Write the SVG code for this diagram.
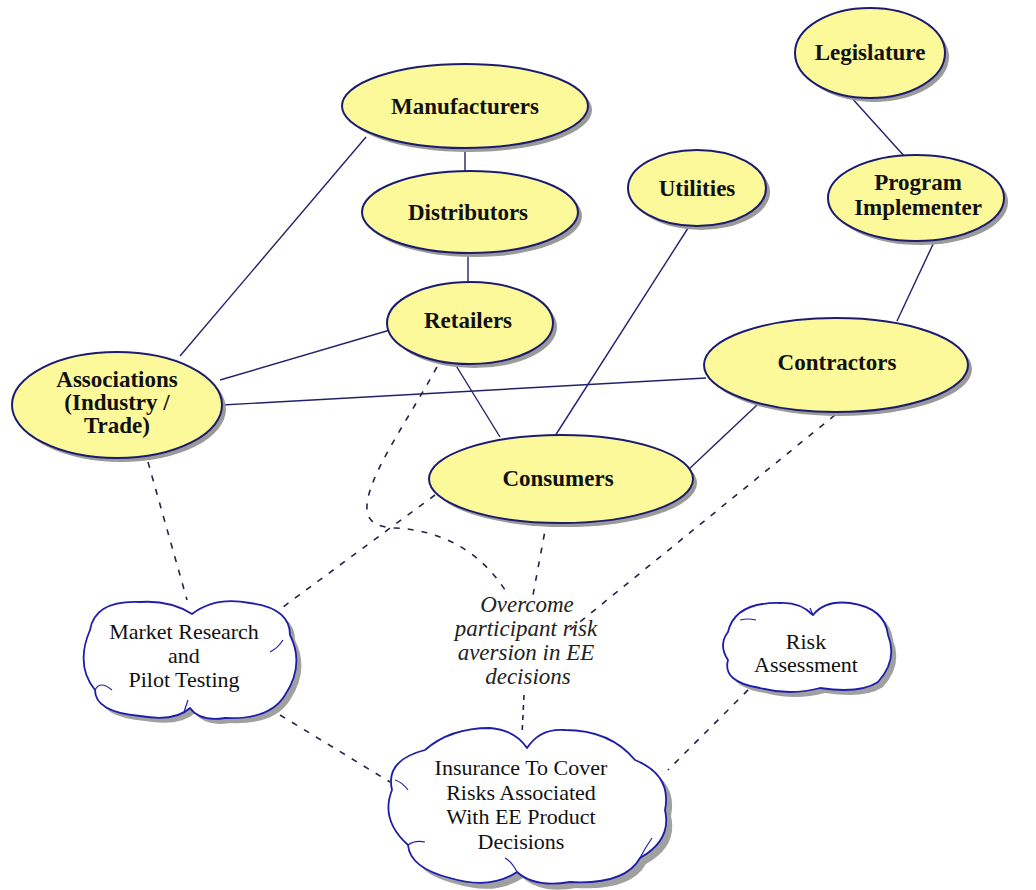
<svg xmlns="http://www.w3.org/2000/svg" width="1036" height="890" viewBox="0 0 1036 890">
  <style>
    .node ellipse.body { fill: #fbf99a; stroke: #1c1c6e; stroke-width: 2; }
    .node ellipse.shade { fill: #9a9a9a; }
    .node text { font-family: "Liberation Serif", "Times New Roman", serif; font-weight: bold; font-size: 23px; fill: #111; text-anchor: middle; }
    .cloud path.body { fill: #ffffff; stroke: #1e1ea8; stroke-width: 1.8; stroke-linejoin: round; }
    .cloud path.shade { fill: #a0a0a0; }
    .cloud path.crease { fill: none; stroke: #1e1ea8; stroke-width: 1.2; }
    .cloud text { font-family: "Liberation Serif", "Times New Roman", serif; font-size: 22px; fill: #111; text-anchor: middle; }
    .label text { font-family: "Liberation Serif", "Times New Roman", serif; font-style: italic; font-size: 23px; fill: #222; text-anchor: middle; }
    .solid { fill: none; stroke: #22226a; stroke-width: 1.4; }
    .dashed { fill: none; stroke: #22224a; stroke-width: 1.6; stroke-dasharray: 6 8; }
  </style>

  <rect width="1036" height="890" fill="#ffffff"/>

  <!-- connectors -->
  <g id="connectors">
    <path class="solid" d="M465 147 L465 172"/>
    <path class="solid" d="M468 252 L468 282"/>
    <path class="solid" d="M366 137 L180 356"/>
    <path class="solid" d="M390 330 L220 380"/>
    <path class="solid" d="M222 405 L706 378"/>
    <path class="solid" d="M455 364 L500 437"/>
    <path class="solid" d="M690 225 L555 436"/>
    <path class="solid" d="M757 405 L688 470"/>
    <path class="solid" d="M850 96 L905 157"/>
    <path class="solid" d="M935 240 L897 321"/>

    <path class="dashed" d="M148 462 L187 600"/>
    <path class="dashed" d="M437 367 C405 425 365 480 367 510 Q368 527 395 528 C440 530 480 550 507 593"/>
    <path class="dashed" d="M435 495 L283 607"/>
    <path class="dashed" d="M547 520 L533 595"/>
    <path class="dashed" d="M835 415 L570 630"/>
    <path class="dashed" d="M524 695 L522 735" style="stroke-dasharray:5 5"/>
    <path class="dashed" d="M280 715 L390 782"/>
    <path class="dashed" d="M758 680 L668 770"/>
  </g>

  <!-- ellipse nodes -->
  <g id="manufacturers" class="node">
    <ellipse class="shade" cx="469" cy="110" rx="123" ry="42"/>
    <ellipse class="body" cx="465" cy="106" rx="123" ry="42"/>
    <text x="465" y="114">Manufacturers</text>
  </g>
  <g id="distributors" class="node">
    <ellipse class="shade" cx="474" cy="216" rx="108" ry="41"/>
    <ellipse class="body" cx="470" cy="212" rx="108" ry="41"/>
    <text x="468" y="220">Distributors</text>
  </g>
  <g id="retailers" class="node">
    <ellipse class="shade" cx="474" cy="327" rx="83" ry="41"/>
    <ellipse class="body" cx="470" cy="323" rx="83" ry="41"/>
    <text x="468" y="328">Retailers</text>
  </g>
  <g id="utilities" class="node">
    <ellipse class="shade" cx="701" cy="192" rx="69" ry="38"/>
    <ellipse class="body" cx="697" cy="188" rx="69" ry="38"/>
    <text x="697" y="196">Utilities</text>
  </g>
  <g id="legislature" class="node">
    <ellipse class="shade" cx="874" cy="57" rx="75" ry="45"/>
    <ellipse class="body" cx="870" cy="53" rx="75" ry="45"/>
    <text x="870" y="60">Legislature</text>
  </g>
  <g id="program-implementer" class="node">
    <ellipse class="shade" cx="920" cy="202" rx="88" ry="43"/>
    <ellipse class="body" cx="916" cy="198" rx="88" ry="43"/>
    <text x="918" y="190">Program</text>
    <text x="918" y="215">Implementer</text>
  </g>
  <g id="contractors" class="node">
    <ellipse class="shade" cx="840" cy="369" rx="132" ry="47"/>
    <ellipse class="body" cx="836" cy="365" rx="132" ry="47"/>
    <text x="837" y="370">Contractors</text>
  </g>
  <g id="associations" class="node">
    <ellipse class="shade" cx="121" cy="409" rx="105" ry="53"/>
    <ellipse class="body" cx="117" cy="405" rx="105" ry="53"/>
    <text x="117" y="387">Associations</text>
    <text x="117" y="410">(Industry /</text>
    <text x="117" y="433">Trade)</text>
  </g>
  <g id="consumers" class="node">
    <ellipse class="shade" cx="565" cy="483" rx="132" ry="44"/>
    <ellipse class="body" cx="561" cy="479" rx="132" ry="44"/>
    <text x="558" y="486">Consumers</text>
  </g>

  <!-- cloud nodes -->
  <g id="market-research" class="cloud">
    <path class="shade" transform="translate(5 5)" d="M90 630 Q95 600 140 602 Q170 600 192 614 Q215 596 250 603 Q290 608 290 635 Q305 665 285 695 Q270 720 225 718 Q200 722 190 708 Q175 722 140 716 Q95 712 95 690 Q75 665 90 630 Z"/>
    <path class="body" d="M90 630 Q95 600 140 602 Q170 600 192 614 Q215 596 250 603 Q290 608 290 635 Q305 665 285 695 Q270 720 225 718 Q200 722 190 708 Q175 722 140 716 Q95 712 95 690 Q75 665 90 630 Z"/>
    <path class="crease" d="M188 700 Q186 706 184 712 M95 690 Q100 680 112 690 M283 640 Q278 648 270 652"/>
    <text x="184" y="639">Market Research</text>
    <text x="184" y="663">and</text>
    <text x="184" y="687">Pilot Testing</text>
  </g>
  <g id="risk-assessment" class="cloud">
    <path class="shade" transform="translate(5 5)" d="M728 632 Q735 602 780 603 Q800 602 813 615 Q825 600 850 603 Q885 608 888 635 Q898 660 878 682 Q860 694 820 688 Q790 696 760 688 Q722 682 728 660 Q718 645 728 632 Z"/>
    <path class="body" d="M728 632 Q735 602 780 603 Q800 602 813 615 Q825 600 850 603 Q885 608 888 635 Q898 660 878 682 Q860 694 820 688 Q790 696 760 688 Q722 682 728 660 Q718 645 728 632 Z"/>
    <path class="crease" d="M740 620 Q748 618 756 620 M813 615 L810 608"/>
    <text x="806" y="649">Risk</text>
    <text x="806" y="672">Assessment</text>
  </g>
  <g id="insurance" class="cloud">
    <path class="shade" transform="translate(6 6)" d="M392 790 Q385 760 425 750 Q450 728 490 728 Q515 730 527 748 Q540 728 565 730 Q610 730 635 760 Q672 775 665 810 Q672 840 640 858 Q625 885 570 882 Q535 888 517 872 Q490 890 450 878 Q410 868 408 845 Q380 820 392 790 Z"/>
    <path class="body" d="M392 790 Q385 760 425 750 Q450 728 490 728 Q515 730 527 748 Q540 728 565 730 Q610 730 635 760 Q672 775 665 810 Q672 840 640 858 Q625 885 570 882 Q535 888 517 872 Q490 890 450 878 Q410 868 408 845 Q380 820 392 790 Z"/>
    <path class="crease" d="M517 872 Q512 862 505 858 M408 845 Q415 840 425 842 M640 858 Q645 848 652 838 M395 780 Q402 782 408 790"/>
    <text x="521" y="775">Insurance To Cover</text>
    <text x="521" y="800">Risks Associated</text>
    <text x="521" y="824">With EE Product</text>
    <text x="521" y="849">Decisions</text>
  </g>

  <!-- link label -->
  <g id="overcome-label" class="label">
    <text x="527" y="612">Overcome</text>
    <text x="526" y="636">participant risk</text>
    <text x="526" y="660">aversion in EE</text>
    <text x="528" y="684">decisions</text>
  </g>
</svg>
